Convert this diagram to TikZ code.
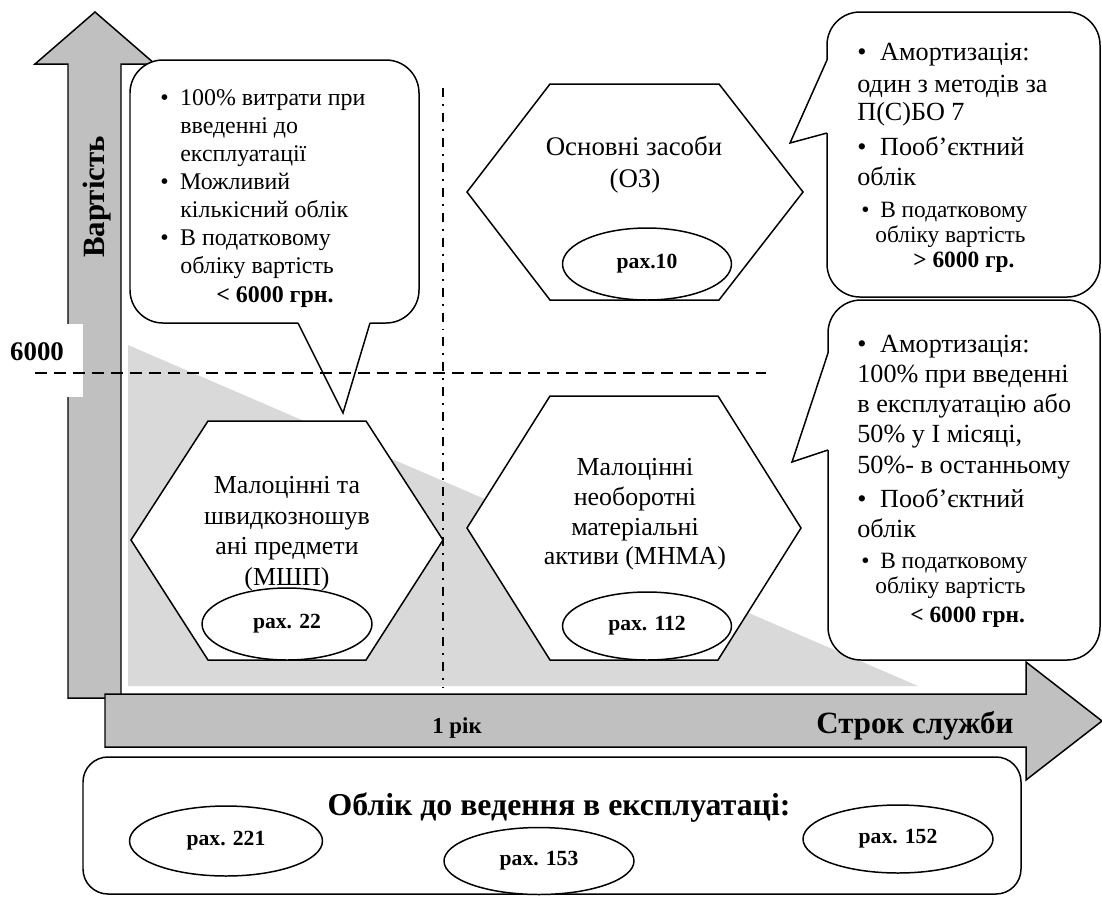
\documentclass[tikz,border=0pt]{standalone}
\usepackage{fontspec}
\setmainfont{Liberation Serif}
\usetikzlibrary{shapes.geometric}
\definecolor{arrgray}{HTML}{C0C0C0}
\definecolor{trigray}{HTML}{D9D9D9}
\newcommand{\bulA}{\makebox[11.3pt][l]{\textbullet}}
\newcommand{\bulB}{\makebox[13pt][l]{\textbullet}}
\newcommand{\bulC}{\makebox[10.8pt][l]{\textbullet}}
\begin{document}
\begin{tikzpicture}[x=0.02cm,y=-0.02cm,
  outl/.style={draw=black,line width=0.85pt,line join=miter},
  bigarrow/.style={outl,fill=arrgray},
  bubble/.style={outl,fill=white,rounded corners=0.66cm},
  hexa/.style={outl,fill=white},
  tailfill/.style={fill=white},
  tailline/.style={draw=black,line width=0.85pt,line join=miter},
  acct/.style={ellipse,draw=black,line width=0.85pt,fill=white,inner sep=0pt,
    font=\fontsize{12.3}{13}\selectfont\bfseries},
  txtL/.style={anchor=base west,inner sep=0pt,font=\fontsize{13.6}{15}\selectfont},
  txtR/.style={anchor=base west,inner sep=0pt,font=\fontsize{14.9}{16}\selectfont},
  txtRs/.style={anchor=base west,inner sep=0pt,font=\fontsize{13.3}{15}\selectfont},
  txtH/.style={anchor=base,inner sep=0pt,font=\fontsize{14.74}{16}\selectfont},
  txtHo/.style={anchor=base,inner sep=0pt,font=\fontsize{15.3}{17}\selectfont},
  bigbold/.style={inner sep=0pt,font=\fontsize{17.6}{19}\selectfont\bfseries},
  dashline/.style={draw=black,line width=1.1pt,dash pattern=on 6.8pt off 4pt},
  dashdot/.style={draw=black,line width=1.1pt,dash pattern=on 5.1pt off 4pt on 1.1pt off 4pt}
]
\useasboundingbox (0,0) rectangle (1102,897);

% vertical axis arrow
\draw[bigarrow] (68,698) -- (68,64) -- (35,64) -- (95,12) -- (155,64) -- (121,64) -- (121,698) -- cycle;
\node[bigbold,rotate=90] (vlab) at (97,197) {Вартість};

% 6000 label
\fill[white] (0,324) rectangle (83,397);
\node[inner sep=0pt,font=\fontsize{15.3}{17}\selectfont\bfseries] (v6000) at (37,352) {6000};

% light gray triangle
\fill[trigray] (128,345) -- (128,686) -- (918,686) -- cycle;

% hexagons
\draw[hexa] (550,84) -- (719,84) -- (803,192) -- (719,300) -- (550,300) -- (467,192) -- cycle;
\draw[hexa] (550,396) -- (718,396) -- (801,528) -- (718,660) -- (550,660) -- (467,528) -- cycle;
\draw[hexa] (208,421) -- (366,421) -- (443,540) -- (366,660) -- (208,660) -- (131,540) -- cycle;

\node[txtHo] (oz1) at (634,155) {Основні засоби};
\node[txtHo] (oz2) at (635,187) {(ОЗ)};
\node[txtH] (ms1) at (287,493) {Малоцінні та};
\node[txtH] (ms2) at (287,524) {швидкозношув};
\node[txtH] (ms3) at (287,554) {ані предмети};
\node[txtH] (ms4) at (287,585) {(МШП)};
\node[txtH] (mn1) at (635,475) {Малоцінні};
\node[txtH] (mn2) at (635,505) {необоротні};
\node[txtH] (mn3) at (635,535) {матеріальні};
\node[txtH] (mn4) at (635,564) {активи (МНМА)};

% account ellipses in hexagons
\node[acct,minimum width=3.38cm,minimum height=1.44cm] (e10) at (647,264) {рах.10};
\node[acct,minimum width=3.4cm,minimum height=1.44cm] (e22) at (287,624) {рах. 22};
\node[acct,minimum width=3.38cm,minimum height=1.36cm] (e112) at (647,626) {рах. 112};

% top-left callout
\draw[bubble] (130,60) rectangle (419,323);
\fill[tailfill] (298,318) -- (370,318) -- (370,323) -- (343,413) -- (298,323) -- cycle;
\draw[tailline] (298,323) -- (343,413) -- (370,323);
\node[txtL] (l1) at (160,105) {\bulA 100\% витрати при};
\node[txtL] (l2) at (180,133) {введенні до};
\node[txtL] (l3) at (180,161) {експлуатації};
\node[txtL] (l4) at (160,189) {\bulA Можливий};
\node[txtL] (l5) at (180,217) {кількісний облік};
\node[txtL] (l6) at (160,245.5) {\bulA В податковому};
\node[txtL] (l7) at (180,273.5) {обліку вартість};
\node[txtL,font=\fontsize{13.6}{15}\selectfont\bfseries] (l8) at (216,302) {< 6000 грн.};

% top-right callout
\draw[bubble] (827,12) rectangle (1100,297);
\fill[tailfill] (832,60) -- (827,60) -- (790,143) -- (827,133) -- (832,133) -- cycle;
\draw[tailline] (827,60) -- (790,143) -- (827,133);
\node[txtR] (a1) at (857,60) {\bulB Амортизація:};
\node[txtR] (a2) at (857,92) {один з методів за};
\node[txtR] (a3) at (857,120) {П(С)БО 7};
\node[txtR] (a4) at (857,155) {\bulB Пооб’єктний};
\node[txtR] (a5) at (857,185) {облік};
\node[txtRs] (a6) at (861,217) {\bulC В податковому};
\node[txtRs] (a7) at (875,242) {обліку вартість};
\node[txtRs,font=\fontsize{13.3}{15}\selectfont\bfseries] (a8) at (913,267) {> 6000 гр.};

% bottom-right callout
\draw[bubble] (828,300) rectangle (1100,660);
\fill[tailfill] (833,353) -- (828,353) -- (792,462) -- (828,450) -- (833,450) -- cycle;
\draw[tailline] (828,353) -- (792,462) -- (828,450);
\node[txtR] (b1) at (857,352) {\bulB Амортизація:};
\node[txtR] (b2) at (857,382) {100\% при введенні};
\node[txtR] (b3) at (857,412) {в експлуатацію або};
\node[txtR] (b4) at (857,442) {50\% у І місяці,};
\node[txtR] (b5) at (857,473) {50\%- в останньому};
\node[txtR] (b6) at (857,507) {\bulB Пооб’єктний};
\node[txtR] (b7) at (857,537) {облік};
\node[txtRs] (b8) at (861,568) {\bulC В податковому};
\node[txtRs] (b9) at (875,593) {обліку вартість};
\node[txtRs,font=\fontsize{13.3}{15}\selectfont\bfseries] (b10) at (910,622) {< 6000 грн.};

% reference lines
\coordinate (hd1) at (35,373);
\coordinate (hd2) at (766,373);
\draw[dashline] (hd1) -- (hd2);
\coordinate (vd1) at (443,88);
\coordinate (vd2) at (443,688);
\draw[dashdot] (vd1) -- (vd2);

% horizontal axis arrow
\draw[bigarrow] (105,694) -- (1026,694) -- (1026,662) -- (1102,721) -- (1026,780) -- (1026,747) -- (105,747) -- cycle;
\node[anchor=base,inner sep=0pt,font=\fontsize{13}{14}\selectfont\bfseries] (yr) at (457,733) {1 рік};
\node[bigbold,anchor=base west] (srok) at (816,733) {Строк служби};

% bottom box
\draw[outl,fill=white,rounded corners=0.5cm] (83,757) rectangle (1021,894);
\node[anchor=base,inner sep=0pt,font=\fontsize{18.1}{20}\selectfont\bfseries] (btitle) at (559,815) {Облік до ведення в експлуатаці:};
\node[acct,minimum width=3.86cm,minimum height=1.4cm] (e221) at (226,841) {рах. 221};
\node[acct,minimum width=3.8cm,minimum height=1.34cm] (e153) at (539,861) {рах. 153};
\node[acct,minimum width=3.8cm,minimum height=1.36cm] (e152) at (898,839) {рах. 152};
\end{tikzpicture}
\end{document}
